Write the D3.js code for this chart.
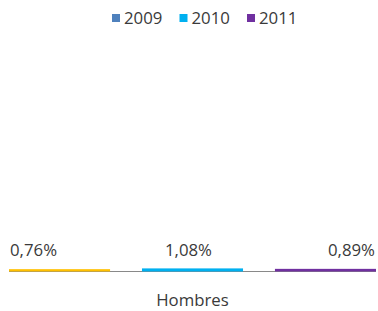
<!DOCTYPE html>
<html>
<head>
<meta charset="utf-8">
<script src="https://cdn.jsdelivr.net/npm/d3@7"></script>
<style>
  body { margin: 0; background: #fff; }
  text { font-family: "Open Sans", "Liberation Sans", sans-serif; fill: #3a3a3a; }
</style>
</head>
<body>
<script>
// data
var years = ["2009", "2010", "2011"];
var values = [0.76, 1.08, 0.89];
var labels = ["0,76%", "1,08%", "0,89%"];
var category = "Hombres";
var legendColors = ["#4f81bd", "#00b0f0", "#7030a0"];
var barColors = ["#ffc000", "#00b0f0", "#7030a0"];

var width = 378, height = 311;
var margin = { top: 30, right: 2, bottom: 40, left: 9 };
var baseY = 271;

var svg = d3.select("body").append("svg")
    .attr("width", width)
    .attr("height", height);

// scales
var x = d3.scaleBand()
    .domain(years)
    .range([margin.left, width - margin.right])
    .paddingInner(0.24)
    .paddingOuter(0);

var y = d3.scaleLinear()
    .domain([0, 100])
    .range([baseY, margin.top]);

// baseline
svg.append("line")
    .attr("x1", margin.left)
    .attr("x2", width - margin.right)
    .attr("y1", baseY + 0.5)
    .attr("y2", baseY + 0.5)
    .attr("stroke", "#898989")
    .attr("stroke-width", 1);

// bars
svg.selectAll(".bar")
    .data(years)
    .enter().append("rect")
    .attr("class", "bar")
    .attr("x", function (d) { return x(d); })
    .attr("width", x.bandwidth())
    .attr("y", function (d, i) { return y(values[i]); })
    .attr("height", function (d, i) { return baseY + 0.5 - y(values[i]); })
    .attr("fill", function (d, i) { return barColors[i]; });

// value labels
svg.selectAll(".lbl")
    .data(years)
    .enter().append("text")
    .attr("class", "lbl")
    .attr("x", function (d, i) {
        if (i == 0) return x(d) + 1;
        if (i == years.length - 1) return x(d) + x.bandwidth() - 1;
        return x(d) + x.bandwidth() / 2 - 4;
    })
    .attr("y", 256)
    .attr("text-anchor", function (d, i) {
        if (i == 0) return "start";
        if (i == years.length - 1) return "end";
        return "middle";
    })
    .style("font-size", "16.8px")
    .text(function (d, i) { return labels[i]; });

// category label
svg.append("text")
    .attr("x", (margin.left + width - margin.right) / 2)
    .attr("y", 306)
    .attr("text-anchor", "middle")
    .style("font-size", "16.8px")
    .text(category);

// legend
var legend = svg.selectAll(".legend")
    .data(years)
    .enter().append("g")
    .attr("class", "legend")
    .attr("transform", function (d, i) {
        return "translate(" + (112 + i * 67.5) + ",14)";
    });
legend.append("rect")
    .attr("width", 8)
    .attr("height", 8)
    .attr("fill", function (d, i) { return legendColors[i]; });
legend.append("text")
    .attr("x", 12)
    .attr("y", 9.5)
    .style("font-size", "16.8px")
    .text(function (d) { return d; });
</script>
</body>
</html>
